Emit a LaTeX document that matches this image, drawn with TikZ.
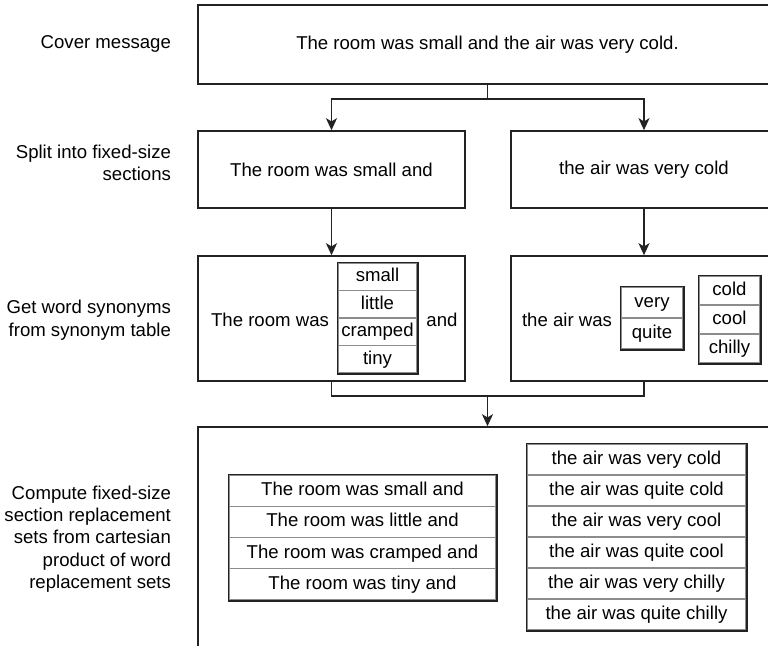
\documentclass[tikz,border=0pt]{standalone}
\usepackage{fontspec}
\setmainfont{Liberation Sans}
\usetikzlibrary{arrows.meta}
\definecolor{linec}{HTML}{222222}
\definecolor{sepc}{HTML}{8C8C8C}
\tikzset{
	stage/.style={draw=linec, line width=0.8pt, inner sep=0pt},
	cell/.style={draw=sepc, line width=0.7pt, inner sep=0pt, text height=7pt, text depth=2pt},
	frame/.style={draw=linec, line width=0.8pt},
	wire/.style={draw=linec, line width=0.8pt},
	flow/.style={wire, -{Stealth[length=6pt,width=5.5pt,inset=1.6pt]}},
	steplabel/.style={anchor=east, align=right},
}

\begin{document}
\begin{tikzpicture}[x=0.5pt, y=-0.5pt, font=\fontsize{9.3}{11.2}\selectfont]
	\useasboundingbox (0,0) rectangle (768,645);
	% Stage boxes:
	\node[stage, minimum width=289.5pt, minimum height=39.5pt] (cover) at (487.5,44.5) {The room was small and the air was very cold.};
	\node[stage, minimum width=133.5pt, minimum height=38.5pt] (splitL) at (331.5,169.5) {The room was small and};
	\node[stage, minimum width=133pt, minimum height=38.5pt] (splitR) at (644,169.5) {the air was very cold};
	\node[stage, minimum width=133.5pt, minimum height=62.5pt] (synL) at (331.5,318.5) {};
	\node[stage, minimum width=133pt, minimum height=62.5pt] (synR) at (644,318.5) {};
	\node[stage, minimum width=289.5pt, minimum height=140pt] (product) at (487.5,567) {};

	% Step labels:
	\node[steplabel] (lblCover) at (178,44) {Cover message};
	\node[steplabel] (lblSplit) at (178,163) {Split into fixed-size\\sections};
	\node[steplabel] (lblSyn) at (178,320) {Get word synonyms\\from synonym table};
	\node[steplabel] (lblProd) at (178,539) {Compute fixed-size\\section replacement\\sets from cartesian\\product of word\\replacement sets};

	% Synonym lists:
	\node (roomWas) at (270,320) {The room was};
	\node (roomAnd) at (442,320) {and};
	\node (airWas) at (567,320) {the air was};
	\foreach \w [count=\i] in {small,little,cramped,tiny}
		\node[cell, minimum width=39.5pt, minimum height=13.75pt] (adj\i) at (377.5,249.25+27.5*\i) {\w};
	\draw[frame] (adj1.north west) rectangle (adj4.south east);
	\foreach \w [count=\i] in {very,quite}
		\node[cell, minimum width=31pt, minimum height=15.5pt] (adv\i) at (652,271.5+31*\i) {\w};
	\draw[frame] (adv1.north west) rectangle (adv2.south east);
	\foreach \w [count=\i] in {cold,cool,chilly}
		\node[cell, minimum width=30.5pt, minimum height=14.5pt] (temp\i) at (729.5,261.5+29*\i) {\w};
	\draw[frame] (temp1.north west) rectangle (temp3.south east);

	% Replacement sets:
	\foreach \w [count=\i] in {small,little,cramped,tiny}
		\node[cell, minimum width=133.5pt, minimum height=15.625pt] (setL\i) at (362.5,459.375+31.25*\i) {The room was \w{} and};
	\draw[frame] (setL1.north west) rectangle (setL4.south east);
	\foreach \w [count=\i] in {very cold,quite cold,very cool,quite cool,very chilly,quite chilly}
		\node[cell, minimum width=109.5pt, minimum height=15.5pt] (setR\i) at (636.5,428.5+31*\i) {the air was \w};
	\draw[frame] (setR1.north west) rectangle (setR6.south east);

	% Connectors:
	\coordinate (fork) at (487.5,99);
	\coordinate (join) at (487.5,396);
	\draw[wire] (cover.south) -- (fork);
	\draw[flow] (fork) -| (splitL.north);
	\draw[flow] (fork) -| (splitR.north);
	\draw[flow] (splitL.south) -- (synL.north);
	\draw[flow] (splitR.south) -- (synR.north);
	\draw[wire] (synL.south) |- (join) -| (synR.south);
	\draw[flow] (join) -- (product.north);
\end{tikzpicture}
\end{document}
